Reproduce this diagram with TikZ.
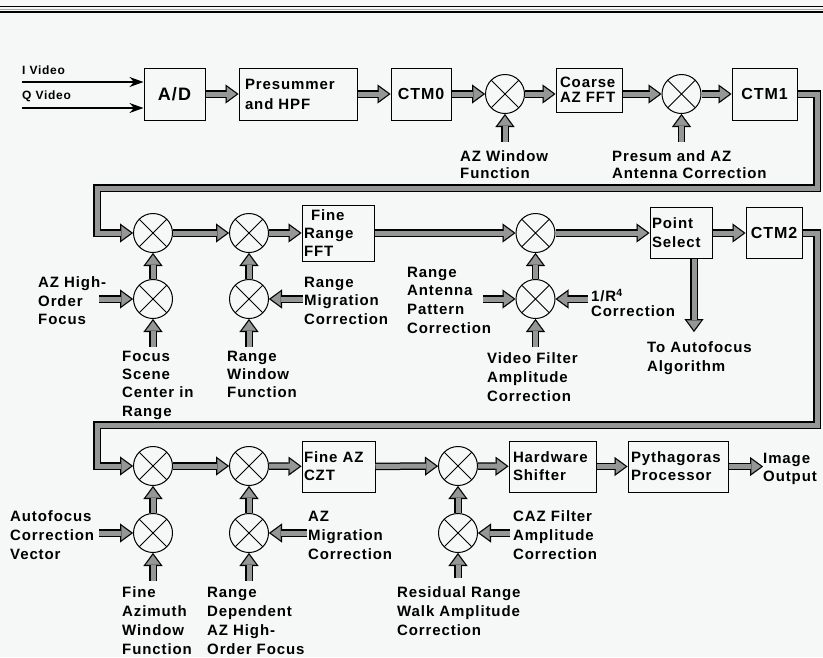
\documentclass[tikz,border=0pt]{standalone}
\usepackage{fontspec}
\setmainfont{Liberation Sans}
\newfontfamily\labfont{Liberation Sans}[LetterSpace=6]
\usetikzlibrary{arrows.meta,calc}
\definecolor{bg}{RGB}{246,248,247}
\definecolor{hatch}{RGB}{150,150,150}
\newcommand\fat[1]{\draw[fatout] #1; \draw[fatin] #1;}
\newcommand\fs[2]{\labfont\bfseries\fontsize{#1}{#2}\selectfont}
\begin{document}
\begin{tikzpicture}[x=1pt,y=-1pt,line join=miter,
  fatout/.style={line width=7.5pt,draw=black,-{Triangle[length=13pt,width=19pt,line width=0.1pt]}},
  fatin/.style={line width=5pt,draw=hatch,shorten >=2.1pt,-{Triangle[length=9.65pt,width=14.1pt,line width=0.1pt]}},
  thinarr/.style={line width=1.3pt,-{Stealth[length=14pt,width=10pt]}},
  box/.style={draw,line width=1pt,inner ysep=0pt},
  mixer/.style={circle,draw,line width=1pt,minimum size=39pt,inner sep=0pt,
    path picture={\draw[line width=0.9pt] (path picture bounding box.north west) -- (path picture bounding box.south east)
      (path picture bounding box.north east) -- (path picture bounding box.south west);}},
  lab/.style={anchor=north west,inner sep=0pt,align=left,font=\fs{15}{#1}},
  lab/.default=18.5]
\path[use as bounding box,fill=bg] (0,0) rectangle (823,657);
% header rule
\draw[line width=1.4pt] (0,6.6) -- (823,6.6);
\draw[line width=0.8pt,gray!70] (0,9.6) -- (823,9.6);
\draw[line width=2.2pt] (0,12.2) -- (823,12.2);

% ---------- row 1 ----------
\node[anchor=north west,inner sep=0pt,font=\fs{12}{14}] (iv) at (22,65.5) {I Video};
\node[anchor=north west,inner sep=0pt,font=\fs{12}{14}] (qv) at (22,90.5) {Q Video};
\coordinate (ivs) at (22,82);
\coordinate (qvs) at (22,108);
\node[box,minimum width=61pt,minimum height=52pt,font=\fs{18}{18}] (ad) at (174.5,94) {A/D};
\draw[thinarr] (ivs) -- (ivs -| ad.west);
\draw[thinarr] (qvs) -- (qvs -| ad.west);
\node[box,text width=106pt,inner xsep=6pt,align=left,minimum height=52pt,font=\fs{15}{20}] (pre) at (298,94) {Presummer\\and HPF};
\node[box,minimum width=60pt,minimum height=52pt,font=\fs{16}{16}] (ctm0) at (421,94) {CTM0};
\node[mixer] (s1) at (505,94) {};
\node[box,text width=58pt,inner xsep=4pt,align=left,minimum height=44pt,font=\fs{15}{14.5}] (caz) at (589,90) {Coarse\\AZ FFT};
\node[mixer] (s2) at (681.5,94) {};
\node[box,minimum width=65pt,minimum height=52pt,font=\fs{16}{16}] (ctm1) at (764.5,94) {CTM1};
\node[lab=16.5] (l1) at (460,150.6) {AZ Window\\Function};
\node[lab=16.5] (l2) at (612,150.6) {Presum and AZ\\Antenna Correction};
\coordinate (a1) at (505,142);
\coordinate (a2) at (681.5,142);

\fat{(ad) -- (pre)}
\fat{(pre) -- (ctm0)}
\fat{(ctm0) -- (s1)}
\fat{(s1) -- (s1 -| caz.west)}
\fat{(s1 -| caz.east) -- (s2)}
\fat{(s2) -- (ctm1)}
\fat{(a1) -- (s1)}
\fat{(a2) -- (s2)}

% ---------- row 2 ----------
\node[mixer] (sA) at (153,233) {};
\node[mixer] (sB) at (249,233) {};
\node[mixer] (sA2) at (153,299) {};
\node[mixer] (sB2) at (249,299) {};
\node[box,text width=68pt,inner xsep=2pt,align=left,minimum height=56pt,font=\fs{15}{18}] (frf) at (338,233) {\hspace*{7pt}Fine\\Range\\FFT};
\node[mixer] (sC) at (535.5,233) {};
\node[mixer] (sC2) at (535.5,299) {};
\node[box,text width=58pt,inner xsep=2pt,align=left,minimum height=51pt,font=\fs{15}{19}] (ps) at (681,233) {Point\\Select};
\node[box,minimum width=56pt,minimum height=51pt,font=\fs{16}{16}] (ctm2) at (774,233) {CTM2};
\coordinate (t1) at (817,188);
\coordinate (t2) at (97,188);
\fat{(ctm1.east) -| (t1) -- (t2) |- (sA)}
\fat{(sA) -- (sB)}
\fat{(sB) -- (frf)}
\fat{(frf) -- (sC)}
\fat{(sC) -- (ps)}
\fat{(ps) -- (ctm2)}
\fat{(sA2) -- (sA)}
\fat{(sB2) -- (sB)}
\fat{(sC2) -- (sC)}
\node[lab] (l3) at (38,276.6) {AZ High-\\Order\\Focus};
\node[lab=18.3] (l4) at (122,350.6) {Focus\\Scene\\Center in\\Range};
\node[lab] (l5) at (304,276.6) {Range\\Migration\\Correction};
\node[lab=18.3] (l6) at (227,350.6) {Range\\Window\\Function};
\node[lab=18.7] (l7) at (407,266.6) {Range\\Antenna\\Pattern\\Correction};
\node[lab=15] (l8) at (591,289) {1/R\textsuperscript{4}\\Correction};
\node[lab=19] (l9) at (487,352.6) {Video Filter\\Amplitude\\Correction};
\node[lab=19] (l10) at (647,341.6) {To Autofocus\\Algorithm};
\coordinate (b1) at (99,299);
\coordinate (b2) at (153,347);
\coordinate (b3) at (303,299);
\coordinate (b4) at (249,347);
\coordinate (b5) at (483,299);
\coordinate (b6) at (588,299);
\coordinate (b7) at (535.5,347);
\coordinate (b8) at (694,332);
\fat{(b1) -- (sA2)}
\fat{(b2) -- (sA2)}
\fat{(b3) -- (sB2)}
\fat{(b4) -- (sB2)}
\fat{(b5) -- (sC2)}
\fat{(b6) -- (sC2)}
\fat{(b7) -- (sC2)}
\fat{(ps.south -| b8) -- (b8)}

% ---------- row 3 ----------
\node[mixer] (sD) at (153,466) {};
\node[mixer] (sE) at (249,466) {};
\node[mixer] (sD2) at (153,533) {};
\node[mixer] (sE2) at (249,533) {};
\node[box,text width=69pt,inner xsep=2pt,align=left,minimum height=51pt,font=\fs{15}{18}] (faz) at (338.5,466.5) {Fine AZ\\CZT};
\node[mixer] (sF) at (458,466) {};
\node[mixer] (sF2) at (458,533) {};
\node[box,text width=79pt,inner xsep=4pt,align=left,minimum height=51pt,font=\fs{15}{18}] (hw) at (552.5,466.5) {Hardware\\Shifter};
\node[box,text width=94pt,inner xsep=3pt,align=left,minimum height=51pt,font=\fs{15}{18}] (py) at (678,466.5) {Pythagoras\\Processor};
\node[lab=18] (io) at (763,452.6) {Image\\Output};
\coordinate (t3) at (817,425);
\coordinate (t4) at (97,425);
\fat{(ctm2.east) -| (t3) -- (t4) |- (sD)}
\fat{(sD) -- (sE)}
\fat{(sE) -- (faz)}
\fat{(faz) -- (sF)}
\fat{(sF) -- (hw)}
\fat{(hw) -- (py)}
\fat{(py.east) -- (py.east -| io.west)}
\fat{(sD2) -- (sD)}
\fat{(sE2) -- (sE)}
\fat{(sF2) -- (sF)}
\node[lab=19] (l11) at (10,510.6) {Autofocus\\Correction\\Vector};
\node[lab=19] (l12) at (122,586.6) {Fine\\Azimuth\\Window\\Function};
\node[lab=19] (l13) at (308,510.6) {AZ\\Migration\\Correction};
\node[lab=19] (l14) at (207,586.6) {Range\\Dependent\\AZ High-\\Order Focus};
\node[lab=19] (l15) at (513,510.6) {CAZ Filter\\Amplitude\\Correction};
\node[lab=19] (l16) at (397,586.6) {Residual Range\\Walk Amplitude\\Correction};
\coordinate (c1) at (99,533);
\coordinate (c2) at (153,581);
\coordinate (c3) at (307,533);
\coordinate (c4) at (249,581);
\coordinate (c5) at (510,533);
\coordinate (c6) at (458,578);
\fat{(c1) -- (sD2)}
\fat{(c2) -- (sD2)}
\fat{(c3) -- (sE2)}
\fat{(c4) -- (sE2)}
\fat{(c5) -- (sF2)}
\fat{(c6) -- (sF2)}
\end{tikzpicture}
\end{document}
